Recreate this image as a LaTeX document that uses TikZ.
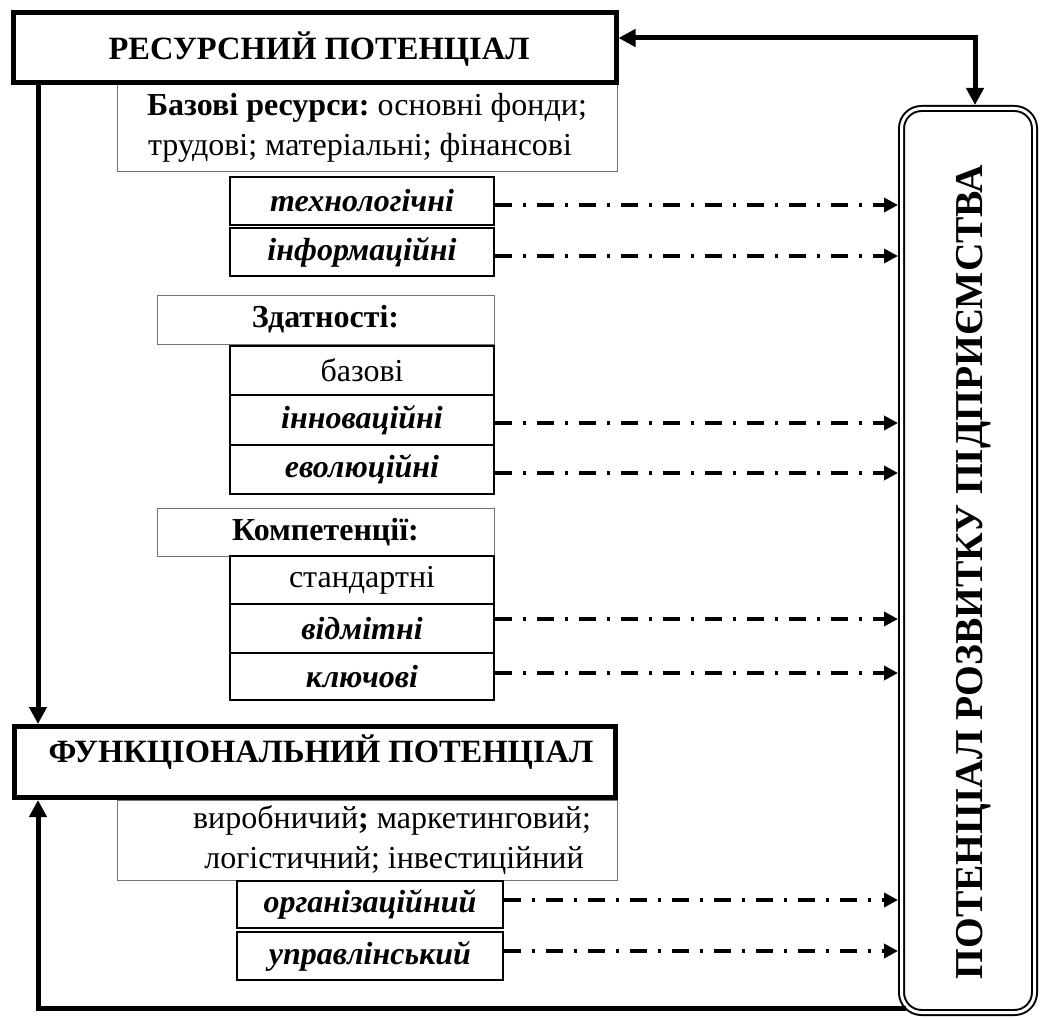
\documentclass[tikz,border=0pt]{standalone}
\usepackage{fontspec}
\setmainfont{Liberation Serif}
\usetikzlibrary{arrows.meta,calc}
\frenchspacing
\begin{document}
\begin{tikzpicture}[x=1pt,y=-1pt,
  thickbox/.style={draw, line width=5pt, inner sep=0pt, outer sep=2.5pt},
  titletext/.style={inner sep=0pt, font=\fontsize{32.5}{36}\selectfont\bfseries},
  lightbox/.style={draw=black!55, line width=1pt, inner sep=0pt, outer sep=0pt, fill=white, font=\fontsize{32}{40}\selectfont, align=center},
  itembox/.style={draw, line width=1.8pt, inner sep=0pt, outer sep=0.9pt, fill=white, font=\fontsize{32}{34}\selectfont\bfseries\itshape},
  plainitem/.style={itembox, font=\fontsize{32}{34}\selectfont},
  mainbox/.style={draw, line width=2pt, double, double distance=3pt, rounded corners=20pt, inner sep=0pt, outer sep=3.5pt},
  bigarrow/.style={line width=5pt, >={Triangle[length=17pt,width=17pt]}},
  dasharrow/.style={line width=3.5pt, dash pattern=on 17pt off 11pt on 3pt off 11pt, -{Triangle[length=14pt,width=14pt]}},
  lbl/.style={inner sep=0pt, font=\fontsize{39.5}{42}\selectfont\bfseries}
]
\useasboundingbox (0,0) rectangle (1041,1019);

% light boxes
\node[lightbox, minimum width=500pt, minimum height=88pt] (baz) at (367,128)
  {\textbf{Базові ресурси:} основні фонди;\\трудові; матеріальні; фінансові\hspace*{14pt}};
\node[lightbox, minimum width=337pt, minimum height=49pt] (zdat) at (325.5,319.5) {\textbf{Здатності:}};
\node[lightbox, minimum width=337pt, minimum height=48pt] (komp) at (325.5,532) {\textbf{Компетенції:}};
\node[lightbox, minimum width=500pt, minimum height=80pt] (vyr) at (367,840)
  {\hspace*{50pt}виробничий\textbf{;} маркетинговий;\\\hspace*{54pt}логістичний; інвестиційний};

% main boxes
\node[thickbox, minimum width=603pt, minimum height=70pt] (top) at (314.5,48) {};
\node[titletext] (toptext) at (319,49) {РЕСУРСНИЙ ПОТЕНЦІАЛ};
\node[thickbox, minimum width=601pt, minimum height=71pt] (func) at (315,762) {};
\node[titletext] (functext) at (321,752) {ФУНКЦІОНАЛЬНИЙ ПОТЕНЦІАЛ};
\node[mainbox, minimum width=133pt, minimum height=904pt] (rbox) at (968,560.5) {};
\node[lbl, rotate=90] (rtext) at (974,572) {ПОТЕНЦІАЛ РОЗВИТКУ ПІДПРИЄМСТВА};

% items
\node[itembox, minimum width=264pt, minimum height=48pt] (tech) at (362,201) {технологічні};
\node[itembox, minimum width=264pt, minimum height=48pt] (inf) at (362,252) {інформаційні};
\node[plainitem, minimum width=264pt, minimum height=49pt] (bazz) at (362,370.5) {базові};
\node[itembox, minimum width=264pt, minimum height=50pt] (inn) at (362,420) {інноваційні};
\node[itembox, minimum width=264pt, minimum height=49pt] (evo) at (362,469.5) {еволюційні};
\node[plainitem, minimum width=264pt, minimum height=48pt] (stand) at (362,580) {стандартні};
\node[itembox, minimum width=264pt, minimum height=49pt] (vidm) at (362,628.5) {відмітні};
\node[itembox, minimum width=264pt, minimum height=47pt] (kl) at (362,676.5) {ключові};
\node[itembox, minimum width=266pt, minimum height=47pt] (org) at (370,904.5) {організаційний};
\node[itembox, minimum width=266pt, minimum height=48pt] (upr) at (370,956) {управлінський};

% connectors
\coordinate (lx) at (38,0);
\coordinate (bs) at (906,1008);
\draw[bigarrow, <->] ([yshift=10pt]top.east) -| ([xshift=7pt]rbox.north);
\draw[bigarrow, ->] (top.south -| lx) -- (func.north -| lx);
\draw[bigarrow, ->] (bs) -| (func.south -| lx);

\foreach \n/\s in {tech/-4, inf/-4, inn/-3, evo/-3.5, vidm/9.5, kl/3.5, org/4.5, upr/5}
  \draw[dasharrow] ([yshift=\s pt]\n.east) -- ([yshift=\s pt]\n.east -| rbox.west);
\end{tikzpicture}
\end{document}
